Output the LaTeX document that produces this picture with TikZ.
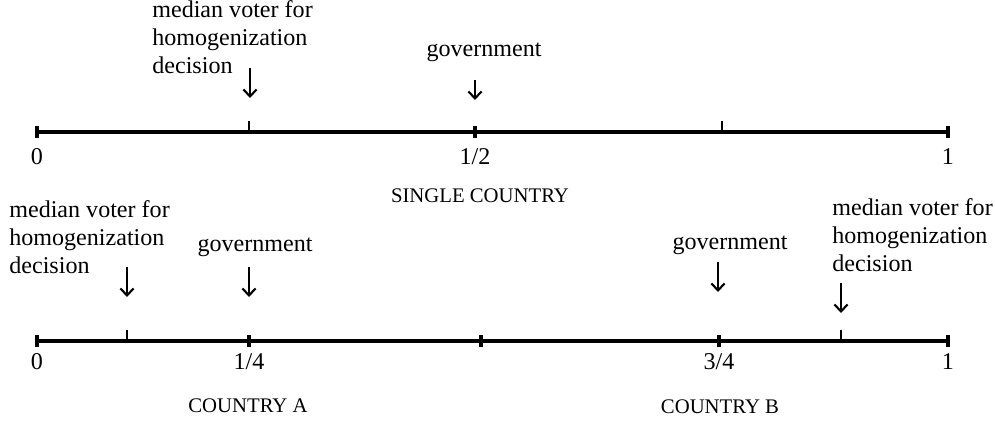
\documentclass[tikz,border=0pt]{standalone}
\usepackage{fontspec}
\setmainfont{Liberation Serif}
\usetikzlibrary{arrows.meta}
\tikzset{
    axis/.style={line width=2.6pt},
    endtick/.style={line width=2.4pt},
    minortick/.style={line width=1.3pt},
    pointer/.style={line width=1.2pt,-{Straight Barb[length=4pt,width=7.5pt,line width=1.2pt]}},
    lbl/.style={inner sep=0pt,font=\fontsize{13.7}{15.9}\selectfont},
    countrylbl/.style={inner sep=0pt,anchor=base,font=\fontsize{11.8}{14}\selectfont}
}
\begin{document}
\begin{tikzpicture}[x=0.02cm,y=-0.02cm]
        \useasboundingbox (0,0) rectangle (995,425);
        \coordinate (s0) at (37,132);
        \coordinate (s1) at (948,132);
        \draw[axis] (s0) -- (s1);
        \foreach \x in {37,475,948}
            \draw[endtick] (\x,126) -- (\x,138);
        \foreach \x in {249,722}
            \draw[minortick] (\x,121) -- (\x,132);
        \foreach \x/\t in {37/0, 475/1\slash 2, 948/1}
            \node[lbl,anchor=base] (s\x) at (\x,165) {\t};
        \node[countrylbl] (single) at (480,203) {SINGLE COUNTRY};
        \node[lbl,anchor=north west,align=left] (smedian) at (152,0.5) {median voter for\\homogenization\\decision};
        \node[lbl,anchor=base] (sgov) at (484,57) {government};
        \coordinate (smtop) at (250,68);
        \coordinate (smbot) at (250,98);
        \coordinate (sgtop) at (475,80);
        \coordinate (sgbot) at (475,100);
        \draw[pointer] (smtop) -- (smbot);
        \draw[pointer] (sgtop) -- (sgbot);

        \coordinate (b0) at (37,341);
        \coordinate (b1) at (948,341);
        \draw[axis] (b0) -- (b1);
        \foreach \x in {37,249,481,719,948}
            \draw[endtick] (\x,335) -- (\x,347);
        \foreach \x in {127,841}
            \draw[minortick] (\x,330) -- (\x,341);
        \foreach \x/\t in {37/0, 249/1\slash 4, 719/3\slash 4, 948/1}
            \node[lbl,anchor=base] (b\x) at (\x,370) {\t};
        \node[countrylbl] (countryA) at (248,413) {COUNTRY A};
        \node[countrylbl] (countryB) at (720,414) {COUNTRY B};
        \node[lbl,anchor=north west,align=left] (amedian) at (9,200.5) {median voter for\\homogenization\\decision};
        \node[lbl,anchor=north west,align=left] (bmedian) at (832,198.5) {median voter for\\homogenization\\decision};
        \node[lbl,anchor=base] (agov) at (255,252) {government};
        \node[lbl,anchor=base] (bgov) at (730,250) {government};
        \coordinate (amtop) at (127,267);
        \coordinate (ambot) at (127,297);
        \coordinate (agtop) at (249,267);
        \coordinate (agbot) at (249,297);
        \coordinate (bgtop) at (718,262);
        \coordinate (bgbot) at (718,292);
        \coordinate (bmtop) at (841,283);
        \coordinate (bmbot) at (841,313);
        \draw[pointer] (amtop) -- (ambot);
        \draw[pointer] (agtop) -- (agbot);
        \draw[pointer] (bgtop) -- (bgbot);
        \draw[pointer] (bmtop) -- (bmbot);
    \end{tikzpicture}
\end{document}
